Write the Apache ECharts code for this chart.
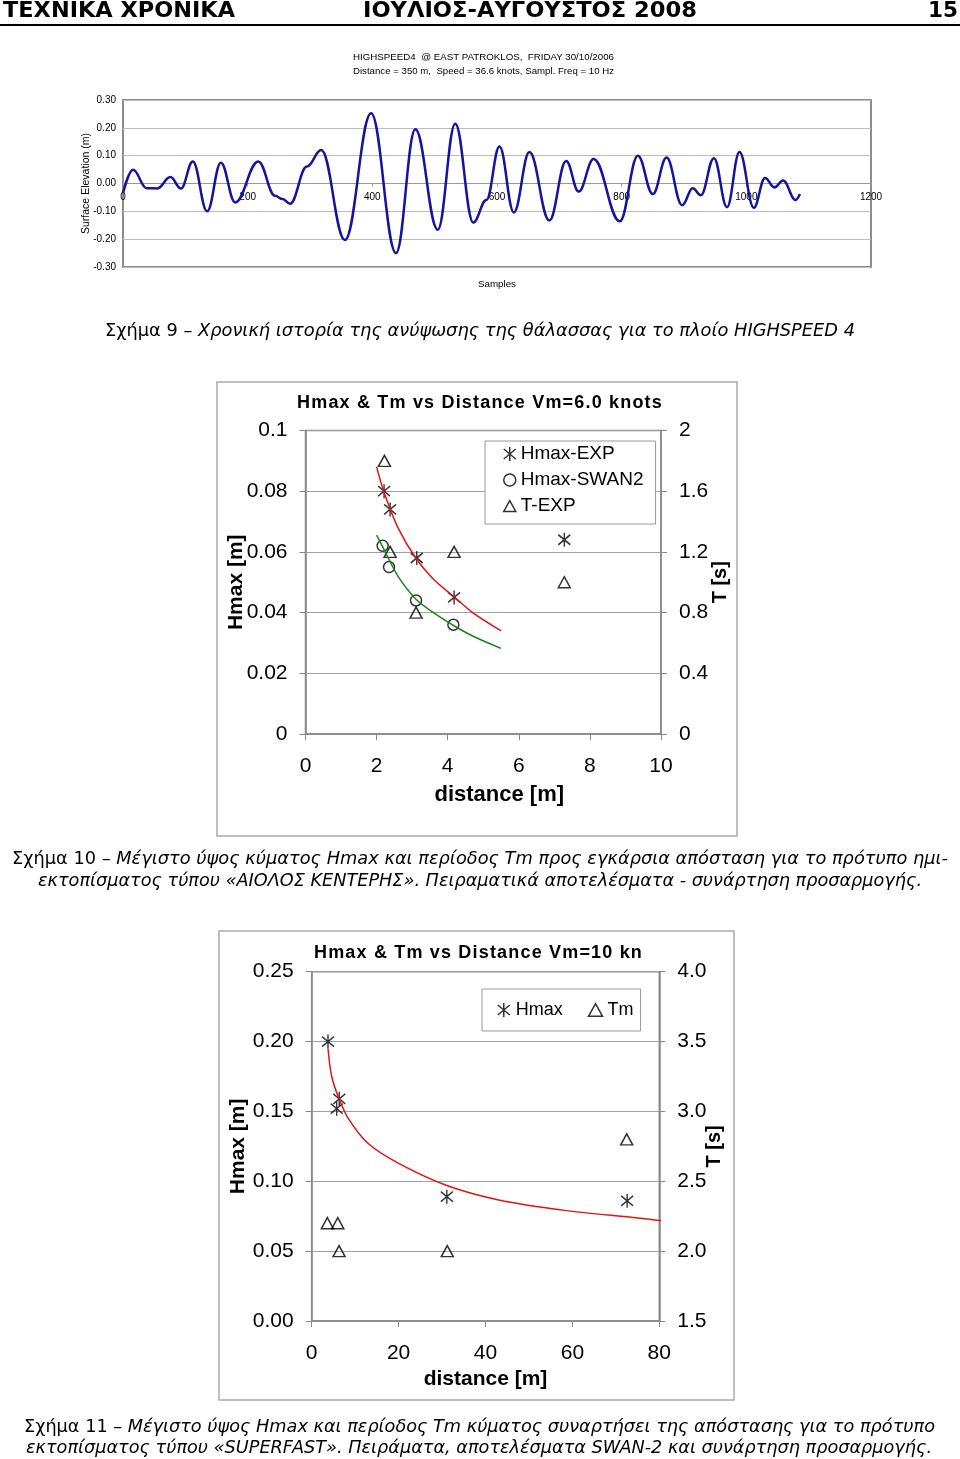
<!DOCTYPE html>
<html>
<head>
<meta charset="utf-8">
<title>ΤΕΧΝΙΚΑ ΧΡΟΝΙΚΑ 15</title>
<script src="https://cdn.jsdelivr.net/npm/echarts@6/dist/echarts.min.js"></script>
<style>
  html, body { margin: 0; padding: 0; background: #fff; }
  #page { position: relative; width: 960px; height: 1459px; overflow: hidden; }
  #chart { position: absolute; left: 0; top: 0; width: 960px; height: 1459px; }
  .t { position: absolute; white-space: nowrap; transform-origin: 0 50%; color: #000; }
  .hd { font-family: "DejaVu Sans Condensed", "DejaVu Sans", sans-serif; font-weight: bold; font-size: 21px; line-height: 21px; }
  .cap { font-family: "DejaVu Sans", sans-serif; font-size: 18px; line-height: 18px; }
  .sm { font-family: "Liberation Sans", Arial, sans-serif; font-size: 9.5px; line-height: 11px; }
  .ttl { font-family: "Liberation Sans", Arial, sans-serif; font-weight: bold; font-size: 18px; line-height: 18px; }
  #rule { position: absolute; left: 0; top: 24px; width: 960px; height: 2px; background: #000; }
</style>
</head>
<body>
<div id="page">
  <div id="chart"></div>

  <!-- page header -->
  <div class="t hd" style="left:3px;top:0px" data-w="232">ΤΕΧΝΙΚΑ ΧΡΟΝΙΚΑ</div>
  <div class="t hd" style="left:363px;top:0px" data-w="334">ΙΟΥΛΙΟΣ-ΑΥΓΟΥΣΤΟΣ 2008</div>
  <div class="t hd" style="left:928px;top:0px" data-w="30">15</div>
  <div id="rule"></div>

  <!-- figure 9 -->
  <div class="t sm" style="left:353px;top:51px" data-w="261">HIGHSPEED4&nbsp; @ EAST PATROKLOS,&nbsp; FRIDAY 30/10/2006</div>
  <div class="t sm" style="left:353px;top:65px" data-w="261">Distance = 350 m,&nbsp; Speed = 36.6 knots, Sampl. Freq = 10 Hz</div>
  <div class="t sm" style="left:478px;top:278px" data-w="38">Samples</div>
  <div class="t cap" style="left:105px;top:321px" data-w="750">Σχήμα 9 – <i>Χρονική ιστορία της ανύψωσης της θάλασσας για το πλοίο HIGHSPEED 4</i></div>

  <!-- figure 10 -->
  <div class="t ttl" style="left:297px;top:393px" data-w="366" data-ls="1">Hmax &amp; Tm vs Distance Vm=6.0 knots</div>
  <div class="t cap" style="left:12px;top:849px" data-w="936">Σχήμα 10 – <i>Μέγιστο ύψος κύματος Hmax και περίοδος Tm προς εγκάρσια απόσταση για το πρότυπο ημι-</i></div>
  <div class="t cap" style="left:38px;top:871px" data-w="884"><i>εκτοπίσματος τύπου «ΑΙΟΛΟΣ ΚΕΝΤΕΡΗΣ». Πειραματικά αποτελέσματα - συνάρτηση προσαρμογής.</i></div>

  <!-- figure 11 -->
  <div class="t ttl" style="left:314px;top:943px" data-w="329" data-ls="1">Hmax &amp; Tm vs Distance Vm=10 kn</div>
  <div class="t cap" style="left:24px;top:1417px" data-w="911">Σχήμα 11 – <i>Μέγιστο ύψος Hmax και περίοδος Tm κύματος συναρτήσει της απόστασης για το πρότυπο</i></div>
  <div class="t cap" style="left:26px;top:1438px" data-w="906"><i>εκτοπίσματος τύπου «SUPERFAST». Πειράματα, αποτελέσματα SWAN-2 και συνάρτηση προσαρμογής.</i></div>
</div>

<script>
  // ---- Fig. 9: surface elevation time history (samples, m) ----
  const waveSample = [0, 16, 38, 55, 76, 93, 112, 135, 157, 180, 217, 244, 256, 268, 295, 318, 356, 398, 438, 469, 505, 533, 562, 583,
    604, 627, 652, 684, 711, 731, 755, 797, 826, 850, 872, 897, 914, 927, 948, 969, 989, 1012, 1030, 1045, 1059, 1079, 1086];
  const waveElev = [-0.035, 0.049, -0.017, -0.018, 0.023, -0.018, 0.079, -0.100, 0.075, -0.068, 0.079, -0.044, -0.056, -0.073, 0.061, 0.120, -0.203, 0.252, -0.250, 0.195, -0.166, 0.215, -0.140, -0.059,
    0.133, -0.104, 0.113, -0.133, 0.081, -0.029, 0.088, -0.136, 0.100, -0.038, 0.093, -0.078, -0.017, -0.042, 0.091, -0.085, 0.113, -0.087, 0.020, -0.014, 0.011, -0.059, -0.038];

  // ---- Fig. 10: Vm = 6.0 knots ----
  const expDist = [2.21, 2.38, 3.13, 4.18, 7.28];
  const expHmax = [0.080, 0.074, 0.058, 0.045, 0.064];
  const swanDist = [2.17, 2.35, 3.11, 4.16];
  const swanHmax = [0.062, 0.055, 0.044, 0.036];
  const tDist = [2.22, 2.38, 3.11, 4.18, 7.28];
  const tExp = [1.8, 1.2, 0.8, 1.2, 1.0];
  const fitDist6 = [2.0, 2.2, 2.6, 3.1, 3.6, 4.2, 4.7, 5.5];
  const fitExp6 = [0.088, 0.080, 0.068, 0.058, 0.051, 0.045, 0.040, 0.034];
  const fitSwan6 = [0.0655, 0.061, 0.052, 0.0445, 0.040, 0.0355, 0.0323, 0.0282];

  // ---- Fig. 11: Vm = 10 kn ----
  const hDist = [3.75, 6.35, 5.75, 31.1, 72.6];
  const hVal = [0.200, 0.159, 0.152, 0.089, 0.086];
  const tmDist = [3.6, 6.0, 6.3, 31.2, 72.5];
  const tmVal = [2.2, 2.2, 2.0, 2.0, 2.8];
  const fitDist10 = [3.75, 4.6, 6.3, 8.4, 13.0, 19.9, 31.1, 43.3, 58.7, 74.0, 81.3];
  const fitH10 = [0.195, 0.175, 0.159, 0.145, 0.127, 0.113, 0.097, 0.0865, 0.079, 0.074, 0.0715];

  const FONT = '"Liberation Sans", Arial, sans-serif';
  const STAR = 'path://M6,0L6,14M0,2L12,12M0,12L12,2';
  const CIRCLE = 'path://M10,5A5,5,0,1,1,0,5A5,5,0,1,1,10,5Z';
  const TRI = 'path://M5,0L10,9L0,9Z';
  const GRIDC = '#a0a0a0';
  const AXC = '#888';

  const pairs = (xs, ys) => xs.map((x, i) => [x, ys[i]]);
  const markStyle = { color: 'transparent', borderColor: '#000', borderWidth: 1.5 };

  function bigAxis(extra) {
    return Object.assign({
      type: 'value',
      axisLine: { show: true, lineStyle: { color: AXC, width: 1.5 } },
      axisTick: { show: true, length: 6, lineStyle: { color: AXC } },
      axisLabel: { fontFamily: FONT, fontSize: 21, color: '#000', margin: 18 },
      splitLine: { show: false },
      nameLocation: 'middle',
      nameMoveOverlap: false,
      nameTextStyle: { fontFamily: FONT, fontSize: 21, fontWeight: 'bold', color: '#000' }
    }, extra);
  }

  const chart = echarts.init(document.getElementById('chart'), null, { renderer: 'canvas' });
  chart.setOption({
    animation: false,
    backgroundColor: '#fff',
    grid: [
      { left: 123, top: 100, width: 748, height: 167, show: true, borderColor: '#8c8c8c', borderWidth: 2 },
      { left: 305.5, top: 430.5, width: 355.5, height: 303.5, show: true, borderColor: AXC, borderWidth: 1.5 },
      { left: 311.7, top: 971.7, width: 347.6, height: 349.3, show: true, borderColor: AXC, borderWidth: 1.5 }
    ],
    xAxis: [
      {
        // the sample axis sits on the zero line, labels included
        gridIndex: 0, type: 'value', min: 0, max: 1200, interval: 200,
        position: 'bottom', offset: -83.5,
        axisLine: { onZero: false, lineStyle: { color: '#999', width: 1 } },
        axisTick: { show: true, length: 3, lineStyle: { color: '#999' } },
        axisLabel: { fontFamily: FONT, fontSize: 10, color: '#000', margin: 9, formatter: v => String(v) },
        splitLine: { show: false }
      },
      bigAxis({
        gridIndex: 1, min: 0, max: 10, interval: 2,
        axisLabel: { fontFamily: FONT, fontSize: 21, color: '#000', margin: 22 },
        name: 'distance [m]', nameGap: 50,
        nameTextStyle: { fontFamily: FONT, fontSize: 22, fontWeight: 'bold', color: '#000', padding: [0, 0, 0, 32] }
      }),
      bigAxis({
        gridIndex: 2, min: 0, max: 80, interval: 20,
        axisLabel: { fontFamily: FONT, fontSize: 21, color: '#000', margin: 22 },
        name: 'distance [m]', nameGap: 48,
        nameTextStyle: { fontFamily: FONT, fontSize: 21, fontWeight: 'bold', color: '#000' }
      })
    ],
    yAxis: [
      {
        gridIndex: 0, type: 'value', min: -0.3, max: 0.3, interval: 0.1,
        axisLine: { show: false }, axisTick: { show: false },
        axisLabel: { fontFamily: FONT, fontSize: 10, color: '#000', margin: 7, formatter: v => v.toFixed(2) },
        splitLine: { show: true, lineStyle: { color: '#bdbdbd', width: 1 } },
        name: 'Surface Elevation (m)', nameLocation: 'middle', nameGap: 31, nameMoveOverlap: false,
        nameTextStyle: { fontFamily: FONT, fontSize: 10.5, color: '#000' }
      },
      bigAxis({
        gridIndex: 1, min: 0, max: 0.1, interval: 0.02,
        splitLine: { show: true, lineStyle: { color: GRIDC, width: 1 } },
        name: 'Hmax [m]', nameGap: 59
      }),
      bigAxis({
        gridIndex: 1, position: 'right', min: 0, max: 2, interval: 0.4,
        name: 'T [s]', nameGap: 49, nameRotate: 90,
        nameTextStyle: { fontFamily: FONT, fontSize: 20, fontWeight: 'bold', color: '#000' }
      }),
      bigAxis({
        gridIndex: 2, min: 0, max: 0.25, interval: 0.05,
        axisLabel: { fontFamily: FONT, fontSize: 21, color: '#000', margin: 18, formatter: v => v.toFixed(2) },
        splitLine: { show: true, lineStyle: { color: GRIDC, width: 1 } },
        name: 'Hmax [m]', nameGap: 63
      }),
      bigAxis({
        gridIndex: 2, position: 'right', min: 1.5, max: 4.0, interval: 0.5,
        axisLabel: { fontFamily: FONT, fontSize: 21, color: '#000', margin: 18, formatter: v => v.toFixed(1) },
        name: 'T [s]', nameGap: 45, nameRotate: 90,
        nameTextStyle: { fontFamily: FONT, fontSize: 20, fontWeight: 'bold', color: '#000' }
      })
    ],
    legend: [
      {
        orient: 'vertical', left: 485, top: 441,
        padding: [3, 12, 8, 18], itemGap: 6, itemWidth: 12, itemHeight: 14,
        backgroundColor: '#fff', borderColor: '#999', borderWidth: 1,
        textStyle: { fontFamily: FONT, fontSize: 19, lineHeight: 20, color: '#000' },
        itemStyle: markStyle,
        data: [
          { name: 'Hmax-EXP', icon: STAR },
          { name: 'Hmax-SWAN2', icon: CIRCLE },
          { name: 'T-EXP', icon: TRI }
        ]
      },
      {
        orient: 'horizontal', left: 482, top: 989,
        padding: [11, 7, 11, 15], itemGap: 25, itemWidth: 14, itemHeight: 14,
        backgroundColor: '#fff', borderColor: '#999', borderWidth: 1,
        textStyle: { fontFamily: FONT, fontSize: 18, lineHeight: 20, color: '#000' },
        itemStyle: markStyle,
        data: [
          { name: 'Hmax', icon: STAR },
          { name: 'Tm', icon: TRI }
        ]
      }
    ],
    graphic: [
      { type: 'rect', shape: { x: 217, y: 382, width: 520, height: 454 }, style: { fill: 'none', stroke: '#aaa', lineWidth: 1.5 }, silent: true },
      { type: 'rect', shape: { x: 219, y: 931, width: 515, height: 469 }, style: { fill: 'none', stroke: '#aaa', lineWidth: 1.5 }, silent: true }
    ],
    series: [
      {
        name: 'elevation', type: 'line', xAxisIndex: 0, yAxisIndex: 0,
        data: pairs(waveSample, waveElev), showSymbol: false,
        smooth: 0.4, smoothMonotone: 'x',
        lineStyle: { color: '#14149c', width: 2.5 }
      },
      {
        name: 'fit-exp', type: 'line', xAxisIndex: 1, yAxisIndex: 1,
        data: pairs(fitDist6, fitExp6), showSymbol: false, smooth: 0.3,
        lineStyle: { color: '#dd1515', width: 1.5 }
      },
      {
        name: 'fit-swan', type: 'line', xAxisIndex: 1, yAxisIndex: 1,
        data: pairs(fitDist6, fitSwan6), showSymbol: false, smooth: 0.3,
        lineStyle: { color: '#16871a', width: 1.5 }
      },
      {
        name: 'Hmax-EXP', type: 'scatter', xAxisIndex: 1, yAxisIndex: 1,
        data: pairs(expDist, expHmax), symbol: STAR, symbolSize: [12, 14], itemStyle: markStyle
      },
      {
        name: 'Hmax-SWAN2', type: 'scatter', xAxisIndex: 1, yAxisIndex: 1,
        data: pairs(swanDist, swanHmax), symbol: CIRCLE, symbolSize: 11, itemStyle: markStyle
      },
      {
        name: 'T-EXP', type: 'scatter', xAxisIndex: 1, yAxisIndex: 2,
        data: pairs(tDist, tExp), symbol: TRI, symbolSize: [12, 11], itemStyle: markStyle
      },
      {
        name: 'fit-10', type: 'line', xAxisIndex: 2, yAxisIndex: 3,
        data: pairs(fitDist10, fitH10), showSymbol: false, smooth: 0.3, clip: false,
        lineStyle: { color: '#dd1515', width: 1.5 }
      },
      {
        name: 'Hmax', type: 'scatter', xAxisIndex: 2, yAxisIndex: 3,
        data: pairs(hDist, hVal), symbol: STAR, symbolSize: [12, 14], itemStyle: markStyle
      },
      {
        name: 'Tm', type: 'scatter', xAxisIndex: 2, yAxisIndex: 4,
        data: pairs(tmDist, tmVal), symbol: TRI, symbolSize: [12, 11], itemStyle: markStyle
      }
    ]
  });

  // stretch the page texts to the widths they have in the scan
  function fit() {
    document.querySelectorAll('[data-w]').forEach(el => {
      el.style.transform = '';
      el.style.letterSpacing = '';
      const w = +el.dataset.w;
      const nat = el.getBoundingClientRect().width;
      if (el.dataset.ls) {
        el.style.letterSpacing = ((w - nat) / el.textContent.length) + 'px';
      } else {
        el.style.transform = 'scaleX(' + (w / nat) + ')';
      }
    });
  }
  fit();
  if (document.fonts) document.fonts.ready.then(fit);
</script>
</body>
</html>
